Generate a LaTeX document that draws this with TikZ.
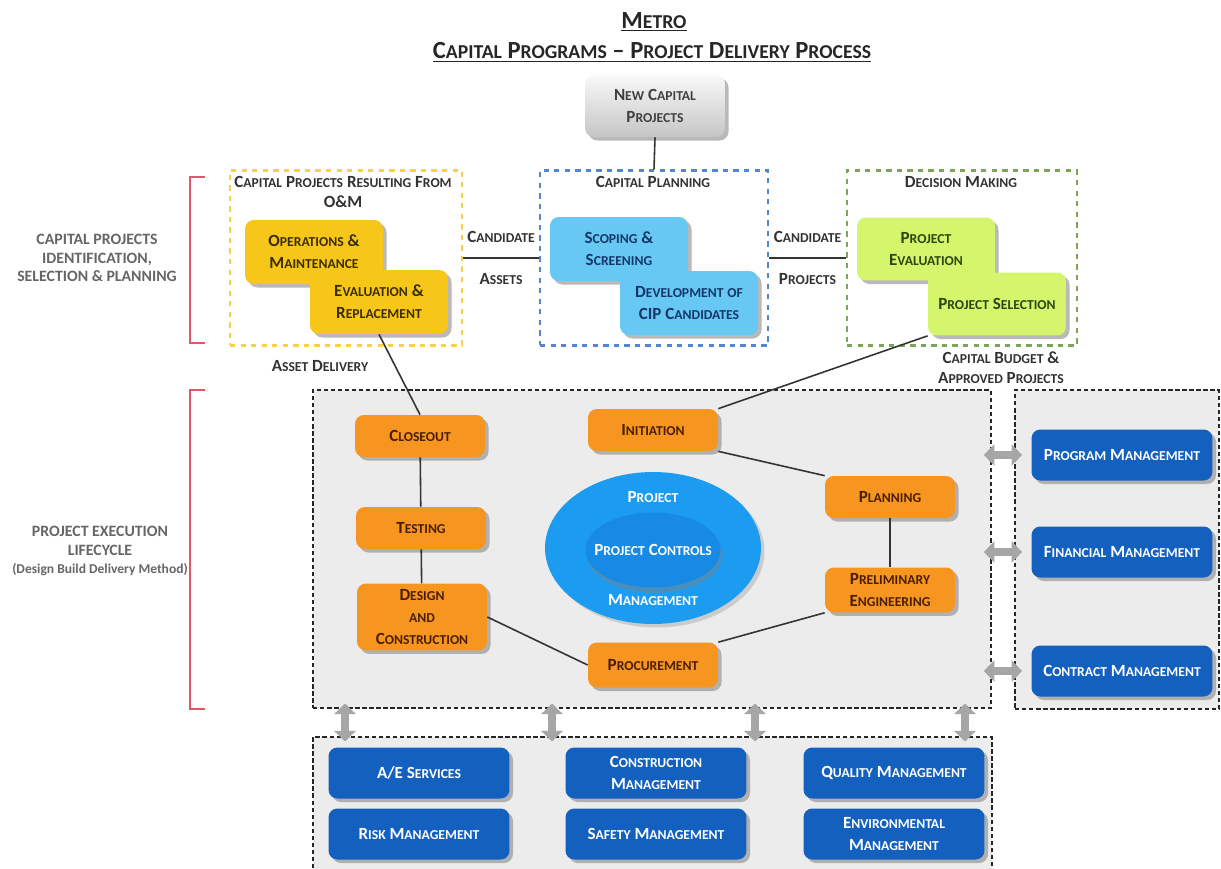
\documentclass[tikz,border=0pt]{standalone}
\usepackage{fontspec}
\usepackage{graphicx}
\setmainfont{Carlito}
\usetikzlibrary{shapes.geometric,shadows,arrows.meta}

\ExplSyntaxOn
\tl_new:N \l_sct_text_tl
\NewDocumentCommand \sct { m }
  {
    \tl_set:Nn \l_sct_text_tl { #1 }
    \regex_replace_all:nnN { ([a-z]+) } { \c{lowsc} \cB\{ \1 \cE\} } \l_sct_text_tl
    \tl_use:N \l_sct_text_tl
  }
\ExplSyntaxOff
\newcommand\lowsc[1]{\scalebox{0.8}{\MakeUppercase{#1}}}

\definecolor{omyellow}{RGB}{246,199,24}
\definecolor{omtext}{RGB}{60,45,0}
\definecolor{cpblue}{RGB}{104,200,244}
\definecolor{cptext}{RGB}{20,55,105}
\definecolor{dmgreen}{RGB}{212,245,108}
\definecolor{dmtext}{RGB}{45,70,15}
\definecolor{dmdash}{RGB}{125,165,85}
\definecolor{cpdash}{RGB}{80,135,205}
\definecolor{phorange}{RGB}{246,150,32}
\definecolor{phtext}{RGB}{75,30,0}
\definecolor{svcblue}{RGB}{20,96,190}
\definecolor{pmblue}{RGB}{28,156,240}
\definecolor{pcblue}{RGB}{22,138,228}
\definecolor{panelgray}{RGB}{236,236,236}
\definecolor{bracketred}{RGB}{226,84,104}

\tikzset{
  stagebox/.style={rectangle, rounded corners=5pt, align=center,
    font=\bfseries\fontsize{9.7}{12.5}\selectfont,
    drop shadow={opacity=0.55, shadow xshift=2pt, shadow yshift=-2pt}},
  ombox/.style={stagebox, fill=omyellow, text=omtext, minimum width=2.76cm, minimum height=1.28cm},
  cpbox/.style={stagebox, fill=cpblue, text=cptext, minimum width=2.76cm, minimum height=1.28cm},
  dmbox/.style={stagebox, fill=dmgreen, text=dmtext, minimum width=2.76cm, minimum height=1.26cm},
  phasebox/.style={stagebox, fill=phorange, text=phtext, minimum width=2.6cm, minimum height=0.84cm},
  svcbox/.style={stagebox, fill=svcblue, text=white, minimum width=3.62cm, minimum height=1.02cm},
  grp/.style={rectangle, dashed, line width=1.3pt, fill=white, minimum height=3.5cm},
  panel/.style={rectangle, fill=panelgray, draw=black!85, dash pattern=on 2.5pt off 1.5pt, line width=0.9pt},
  grptitle/.style={font=\bfseries\fontsize{9.7}{11.3}\selectfont, text=black!80, align=center},
  sidelabel/.style={font=\bfseries\fontsize{9}{10.5}\selectfont, text=black!60, align=center},
  pmtext/.style={text=white, font=\bfseries\fontsize{9.7}{12}\selectfont},
  link/.style={draw=black!80, line width=0.9pt},
  dblarr/.style={draw=gray!70, line width=5pt,
    {Triangle[width=12pt,length=6pt]}-{Triangle[width=12pt,length=6pt]}},
  bracket/.style={draw=bracketred, line width=1.3pt}
}

\begin{document}
\begin{tikzpicture}[x=0.02cm, y=-0.02cm]
                \useasboundingbox (0,0) rectangle (1221,869);

                \node [font=\bfseries\fontsize{14}{16}\selectfont, text=black!85] (ttl1) at (654,22) {\underline{\sct{Metro}}};
                \node [font=\bfseries\fontsize{14}{16}\selectfont, text=black!85] (ttl2) at (652,52) {\underline{\sct{Capital Programs – Project Delivery Process}}};

                \node [stagebox, top color=gray!5, bottom color=gray!45, text=black!75, minimum width=2.8cm, minimum height=1.24cm] (newcap) at (655,106) {\sct{New Capital}\\\sct{Projects}};

                \node [sidelabel] (idlbl) at (97,258) {CAPITAL PROJECTS\\IDENTIFICATION,\\SELECTION \& PLANNING};
                \draw [bracket] (205,177) -- (190,177) -- (190,343) -- (205,343);
                \node [sidelabel] (exlbl) at (100,551) {PROJECT EXECUTION\\LIFECYCLE\\{\fontsize{7.7}{10}\selectfont(Design Build Delivery Method)}};
                \draw [bracket] (205,390) -- (190,390) -- (190,709) -- (205,709);

                \node [grp, draw=omyellow!80!white, minimum width=4.64cm] (omgrp) at (346,258) {};
                \node [grp, draw=cpdash, minimum width=4.56cm] (cpgrp) at (654,258) {};
                \node [grp, draw=dmdash, minimum width=4.6cm] (dmgrp) at (962,258) {};

                \node [grptitle] (omttl) at (343,192) {\sct{Capital Projects Resulting From}\\\sct{O\&M}};
                \node [grptitle] (cpttl) at (653,182) {\sct{Capital Planning}};
                \node [grptitle] (dmttl) at (961,182) {\sct{Decision Making}};

                \node [ombox] (om) at (314,252) {\sct{Operations \&}\\\sct{Maintenance}};
                \node [ombox] (evr) at (379,302) {\sct{Evaluation \&}\\\sct{Replacement}};
                \node [cpbox] (scope) at (619,249) {\sct{Scoping \&}\\\sct{Screening}};
                \node [cpbox] (cip) at (689,303) {\sct{Development of}\\\sct{CIP Candidates}};
                \node [dmbox] (peval) at (926,249) {\sct{Project}\\\sct{Evaluation}};
                \node [dmbox] (psel) at (997,304) {\sct{Project Selection}};

                \draw [link] (newcap.south) -- (cpgrp.north);
                \draw [link] (omgrp.east) -- node [above=5pt, grptitle] {\sct{Candidate}} node [below=5pt, grptitle] {\sct{Assets}} (cpgrp.west);
                \draw [link] (cpgrp.east) -- node [above=5pt, grptitle] {\sct{Candidate}} node [below=5pt, grptitle] {\sct{Projects}} (dmgrp.west);

                \node [grptitle] (budget) at (1001,368) {\sct{Capital Budget \&}\\\sct{Approved Projects}};
                \node [grptitle] (asset) at (320,366) {\sct{Asset Delivery}};

                \node [panel, minimum width=13.56cm, minimum height=6.36cm] (execpanel) at (652,549) {};
                \node [panel, minimum width=4.08cm, minimum height=6.38cm] (svcpanel) at (1117,549.5) {};
                \node [panel, minimum width=13.58cm, minimum height=2.92cm] (botpanel) at (652.5,810) {};

                \node [ellipse, fill=pmblue, minimum width=4.32cm, minimum height=3.04cm, drop shadow={opacity=0.3, shadow xshift=2pt, shadow yshift=-2pt}] (pm) at (653,548) {};
                \node [ellipse, fill=pcblue, minimum width=2.7cm, minimum height=1.5cm, drop shadow={opacity=0.45, shadow xshift=1pt, shadow yshift=-3pt}] (pc) at (653,550) {};
                \node [pmtext] (pctxt) at (pc) {\sct{Project Controls}};
                \node [pmtext] (pmtop) at (653,497) {\sct{Project}};
                \node [pmtext] (pmbot) at (653,600) {\sct{Management}};

                \node [phasebox] (closeout) at (420,436) {\sct{Closeout}};
                \node [phasebox] (testing) at (421,528) {\sct{Testing}};
                \node [phasebox, minimum height=1.2cm] (design) at (422,617) {\sct{Design}\\\sct{and}\\\sct{Construction}};
                \node [phasebox] (init) at (653,430) {\sct{Initiation}};
                \node [phasebox] (plan) at (890,497) {\sct{Planning}};
                \node [phasebox, minimum height=0.88cm] (prelim) at (890,590) {\sct{Preliminary}\\\sct{Engineering}};
                \node [phasebox, minimum height=0.9cm] (proc) at (653,665) {\sct{Procurement}};

                \draw [link] (evr.south) -- (closeout.north);
                \draw [link] (psel.south west) -- (init.north east);
                \draw [link] (closeout) -- (testing);
                \draw [link] (testing) -- (design);
                \draw [link] (init.south east) -- (plan.north west);
                \draw [link] (plan) -- (prelim);
                \draw [link] (prelim.south west) -- (proc.north east);
                \draw [link] (design.east) -- (proc.west);

                \node [svcbox] (progm) at (1122,455) {\sct{Program Management}};
                \node [svcbox] (finm) at (1122,552) {\sct{Financial Management}};
                \node [svcbox] (contm) at (1122,671) {\sct{Contract Management}};

                \node [svcbox] (aes) at (419,773) {\sct{A/E Services}};
                \node [svcbox] (consm) at (656,773) {\sct{Construction}\\\sct{Management}};
                \node [svcbox] (qualm) at (894,773) {\sct{Quality Management}};
                \node [svcbox] (riskm) at (419,834) {\sct{Risk Management}};
                \node [svcbox] (safem) at (656,834) {\sct{Safety Management}};
                \node [svcbox] (envm) at (894,834) {\sct{Environmental}\\\sct{Management}};

                \foreach \m in {progm, finm, contm}
                    \draw [dblarr, shorten <=-4.5pt, shorten >=-4.5pt] (execpanel.east |- \m) -- (svcpanel.west |- \m);
                \foreach \x [count=\i] in {345,552,755,965} {
                    \coordinate (ax\i) at (\x,0);
                    \draw [dblarr, shorten <=-3pt, shorten >=-3pt] (ax\i |- execpanel.south) -- (ax\i |- botpanel.north);
                }
\end{tikzpicture}
\end{document}
